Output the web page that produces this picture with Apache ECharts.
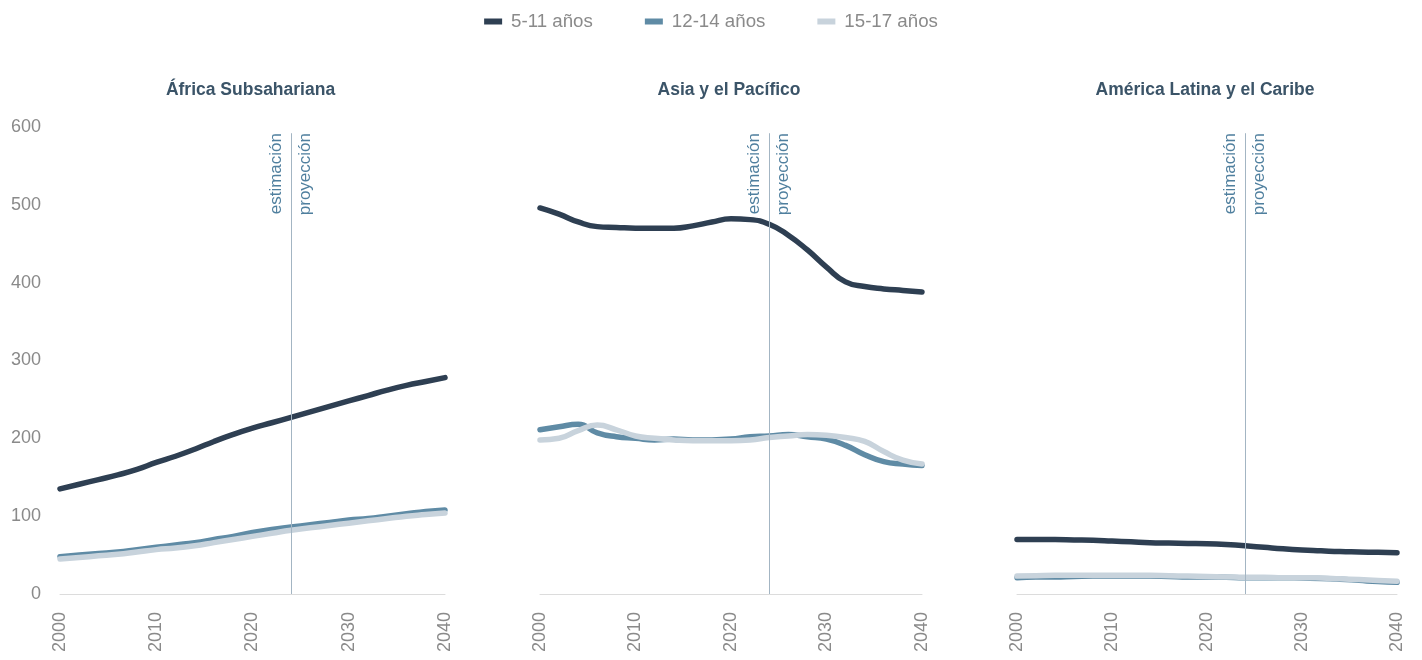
<!DOCTYPE html>
<html>
<head>
<meta charset="utf-8">
<script src="https://cdn.jsdelivr.net/npm/echarts@6/dist/echarts.min.js"></script>
<style>
  html, body { margin: 0; padding: 0; background: #fff; }
  #chart { width: 1422px; height: 660px; }
</style>
</head>
<body>
<div id="chart"></div>
<script>
// years on the x axis (every 2 years)
var years = [2000, 2002, 2004, 2006, 2008, 2010, 2012, 2014, 2016, 2018, 2020,
             2022, 2024, 2026, 2028, 2030, 2032, 2034, 2036, 2038, 2040];
var regions = ['África Subsahariana', 'Asia y el Pacífico', 'América Latina y el Caribe'];
var groups = ['5-11 años', '12-14 años', '15-17 años'];
var colors = ['#2e3f52', '#5f8ba5', '#c8d3dc'];
var splitYear = 2024;

// África Subsahariana
var africa511 = [135, 141, 147, 153, 160, 169, 177, 186, 196, 205, 213, 220, 227, 234, 241, 248, 255, 262, 268, 273, 278];
var africa1214 = [48, 50, 52, 54, 57, 60, 63, 66, 70, 74, 79, 83, 86, 89, 92, 95, 97, 100, 103, 106, 108];
var africa1517 = [45, 47, 49, 51, 54, 57, 59, 62, 66, 70, 74, 78, 82, 85, 88, 91, 94, 97, 100, 102, 104];

// Asia y el Pacífico
var asia511 = [496, 488, 478, 472, 471, 470, 470, 470, 473, 478, 482, 481, 475, 461, 442, 420, 401, 395, 392, 390, 388];
var asia1214 = [211, 215, 218, 207, 202, 200, 198, 199, 198, 198, 199, 202, 203, 205, 202, 199, 191, 179, 170, 167, 165];
var asia1517 = [198, 200, 210, 217, 211, 203, 200, 198, 197, 197, 197, 198, 201, 203, 205, 204, 201, 196, 183, 172, 167];

// América Latina y el Caribe
var latam511 = [70, 70, 70, 69.5, 69, 68, 67, 66, 65.5, 65, 64.5, 63.5, 62, 60, 58, 56.5, 55.5, 54.5, 54, 53.5, 53];
var latam1214 = [21, 22, 22, 22.5, 23, 23, 23, 23, 22.5, 22, 22, 21.5, 21, 21, 21, 20.5, 20, 19, 17.5, 16, 15];
var latam1517 = [23, 23.5, 24, 24, 24, 24, 24, 24, 23.5, 23, 22.5, 22, 21.5, 21.5, 21, 21, 20.5, 19.5, 18.5, 17.5, 16.5];

var panels = [
  [africa511, africa1214, africa1517],
  [asia511, asia1214, asia1517],
  [latam511, latam1214, latam1517]
];

var font = 'Liberation Sans, Arial, Helvetica, sans-serif';
var gridLeft = [60, 540, 1017];
var gridWidth = [385, 382, 380];

function pairs(vals) {
  return years.map(function (y, i) { return [y, vals[i]]; });
}

function dividerLabel(text, pos) {
  return {
    show: true,
    formatter: text,
    position: pos,
    distance: 6,
    color: '#4f7f9e',
    fontFamily: font,
    fontSize: 17
  };
}

var grids = [], xAxes = [], yAxes = [], titles = [], series = [];

for (var p = 0; p < 3; p++) {
  grids.push({ left: gridLeft[p], width: gridWidth[p], top: 127, bottom: 66 });
  titles.push({
    text: regions[p],
    left: gridLeft[p] + gridWidth[p] / 2 - 7,
    top: 76,
    textAlign: 'center',
    textStyle: { fontFamily: font, fontSize: 17.5, fontWeight: 'bold', color: '#3b5468' }
  });
  xAxes.push({
    gridIndex: p,
    type: 'value',
    min: 2000,
    max: 2040,
    interval: 10,
    axisLine: { show: true, lineStyle: { color: '#dcdcdc', width: 1 } },
    axisTick: { show: false },
    splitLine: { show: false },
    axisLabel: {
      rotate: 90,
      margin: 18,
      color: '#8a8a8a',
      fontFamily: font,
      fontSize: 18,
      formatter: function (v) { return String(v); }
    }
  });
  yAxes.push({
    gridIndex: p,
    type: 'value',
    min: 0,
    max: 600,
    interval: 100,
    axisLine: { show: false },
    axisTick: { show: false },
    splitLine: { show: false },
    axisLabel: {
      show: p === 0,
      margin: 19,
      color: '#8a8a8a',
      fontFamily: font,
      fontSize: 18
    }
  });

  for (var g = 0; g < 3; g++) {
    var s = {
      name: groups[g],
      type: 'line',
      xAxisIndex: p,
      yAxisIndex: p,
      data: pairs(panels[p][g]),
      smooth: true,
      showSymbol: false,
      symbol: 'none',
      color: colors[g],
      lineStyle: { width: 5.5, color: colors[g], cap: 'round' },
      z: 3
    };
    if (g === 0) {
      // estimación / proyección divider: visible line plus transparent label carriers
      s.markLine = {
        silent: true,
        symbol: 'none',
        animation: false,
        lineStyle: { color: '#a3b5c3', width: 1, type: 'solid' },
        data: [
          [
            { coord: [splitYear, 0], label: { show: false } },
            { coord: [splitYear, 592] }
          ],
          [
            { coord: [splitYear, 0], label: dividerLabel('estimación', 'insideEndTop'), lineStyle: { color: 'rgba(0,0,0,0)' } },
            { coord: [splitYear, 600] }
          ],
          [
            { coord: [splitYear, 0], label: dividerLabel('proyección', 'insideEndBottom'), lineStyle: { color: 'rgba(0,0,0,0)' } },
            { coord: [splitYear, 600] }
          ]
        ]
      };
    }
    series.push(s);
  }
}

var myChart = echarts.init(document.getElementById('chart'));

var option = {
  animation: false,
  title: titles,
  legend: {
    top: 7,
    left: 'center',
    data: groups,
    icon: 'rect',
    itemWidth: 18,
    itemHeight: 6,
    itemGap: 52,
    textStyle: { color: '#8a8a8a', fontFamily: font, fontSize: 18.7, padding: [0, 0, 0, 4] }
  },
  grid: grids,
  xAxis: xAxes,
  yAxis: yAxes,
  series: series
};

myChart.setOption(option);
</script>
</body>
</html>
